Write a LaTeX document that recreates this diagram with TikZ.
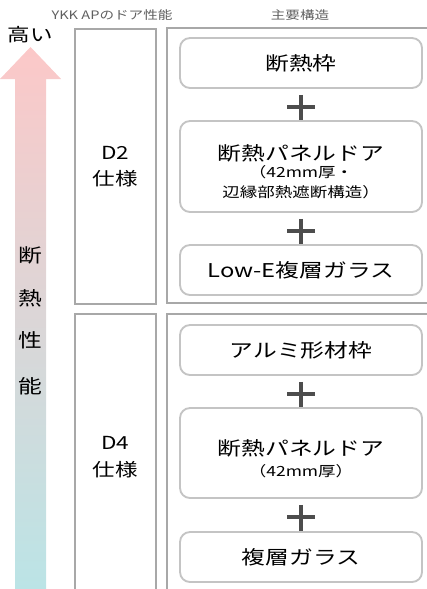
\documentclass[tikz,border=0pt]{standalone}
\usepackage{fontspec}
\setmainfont{Noto Sans CJK JP}[FakeStretch=1.25]
\usepackage{tikz}
\usetikzlibrary{calc}
\usetikzlibrary{positioning}

\definecolor{framegray}{HTML}{A8A8A8}
\definecolor{boxgray}{HTML}{C4C4C4}
\definecolor{plusgray}{HTML}{4D4D4D}
\definecolor{headgray}{HTML}{5F5F5F}
\definecolor{arrowpink}{HTML}{FCC8C8}
\definecolor{arrowteal}{HTML}{BBE4E6}

\newcommand{\bigfnt}{\fontsize{14.25}{18}\selectfont}
\newcommand{\smallfnt}{\fontsize{10.5}{15}\selectfont}

\tikzset{
	colbox/.style={draw=framegray, line width=1.1pt, minimum width=60.75pt, inner sep=0pt, align=center, font=\fontsize{13.5}{20}\selectfont},
	mainbox/.style={draw=framegray, line width=1.1pt, minimum width=204.75pt, inner sep=0pt},
	partbox/.style={draw=boxgray, line width=1.4pt, rounded corners=7.5pt, minimum width=181.5pt, inner sep=0pt, align=center, font=\bigfnt},
	parttext/.style={inner sep=0pt, align=center, font=\bigfnt},
	plusmark/.style={draw=plusgray, line width=3pt},
	headtext/.style={text=headgray, font=\fontsize{8.75}{10}\selectfont},
	sidetext/.style={font=\fontsize{14.25}{16}\selectfont}
}

\begin{document}
\begin{tikzpicture}[x=0.75pt, y=-0.75pt]
			\useasboundingbox (0,0) rectangle (427,589);
			\clip (0,0) rectangle (427,589);
			
			\shade[top color=arrowpink, bottom color=arrowteal] (15,589) -- (15,79) -- (0,79) -- (30.5,47) -- (61,79) -- (46,79) -- (46,589) -- cycle;
			
			\node[headtext] (perfhead) at (112,15) {YKK APのドア性能};
			\node[headtext] (structhead) at (300,15) {主要構造};
			\node[font=\fontsize{13.5}{16}\selectfont] (high) at (30,35) {高い};
			
			\node[sidetext] (dan) at (30,255) {断};
			\node[sidetext] (netsu) at (30,298) {熱};
			\node[sidetext] (sei) at (30,340) {性};
			\node[sidetext] (nou) at (30,386) {能};
			
			\node[colbox, minimum height=206.25pt] (d2col) at (115.5,166.5) {D2\\仕様};
			\node[mainbox, minimum height=206.25pt] (d2main) at (303.5,165.5) {};
			\node[colbox, minimum height=214.5pt] (d4col) at (115.5,457) {D4\\仕様};
			\node[mainbox, minimum height=214.5pt] (d4main) at (303.5,457) {};
			
			\node[partbox, minimum height=37.5pt] (frame2) at (301,63) {断熱枠};
			\node[partbox, minimum height=68.25pt] (panel2) at (301,166.5) {};
			\node[parttext] (panel2text) at (301,172) {断熱パネルドア\\[-5.5pt]\smallfnt （42mm厚・\\[-3pt]\smallfnt 辺縁部熱遮断構造）};
			\node[partbox, minimum height=37.5pt] (glass2) at (301,270) {Low-E複層ガラス};
			
			\node[partbox, minimum height=37.5pt] (frame4) at (301,350) {アルミ形材枠};
			\node[partbox, minimum height=67.5pt] (panel4) at (301,453) {};
			\node[parttext] (panel4text) at (301,459) {断熱パネルドア\\[-2pt]\smallfnt （42mm厚）};
			\node[partbox, minimum height=37.5pt] (glass4) at (301,557) {複層ガラス};
			
			\draw[plusmark] ($(frame2.south)+(0,6)$) -- (panel2.north);
			\draw[plusmark] ($(frame2.south)+(-14,18)$) -- ($(frame2.south)+(14,18)$);
			\draw[plusmark] ($(panel2.south)+(0,6)$) -- (glass2.north);
			\draw[plusmark] ($(panel2.south)+(-14,18)$) -- ($(panel2.south)+(14,18)$);
			\draw[plusmark] ($(frame4.south)+(0,6)$) -- (panel4.north);
			\draw[plusmark] ($(frame4.south)+(-14,18)$) -- ($(frame4.south)+(14,18)$);
			\draw[plusmark] ($(panel4.south)+(0,6)$) -- (glass4.north);
			\draw[plusmark] ($(panel4.south)+(-14,18)$) -- ($(panel4.south)+(14,18)$);
\end{tikzpicture}
\end{document}
